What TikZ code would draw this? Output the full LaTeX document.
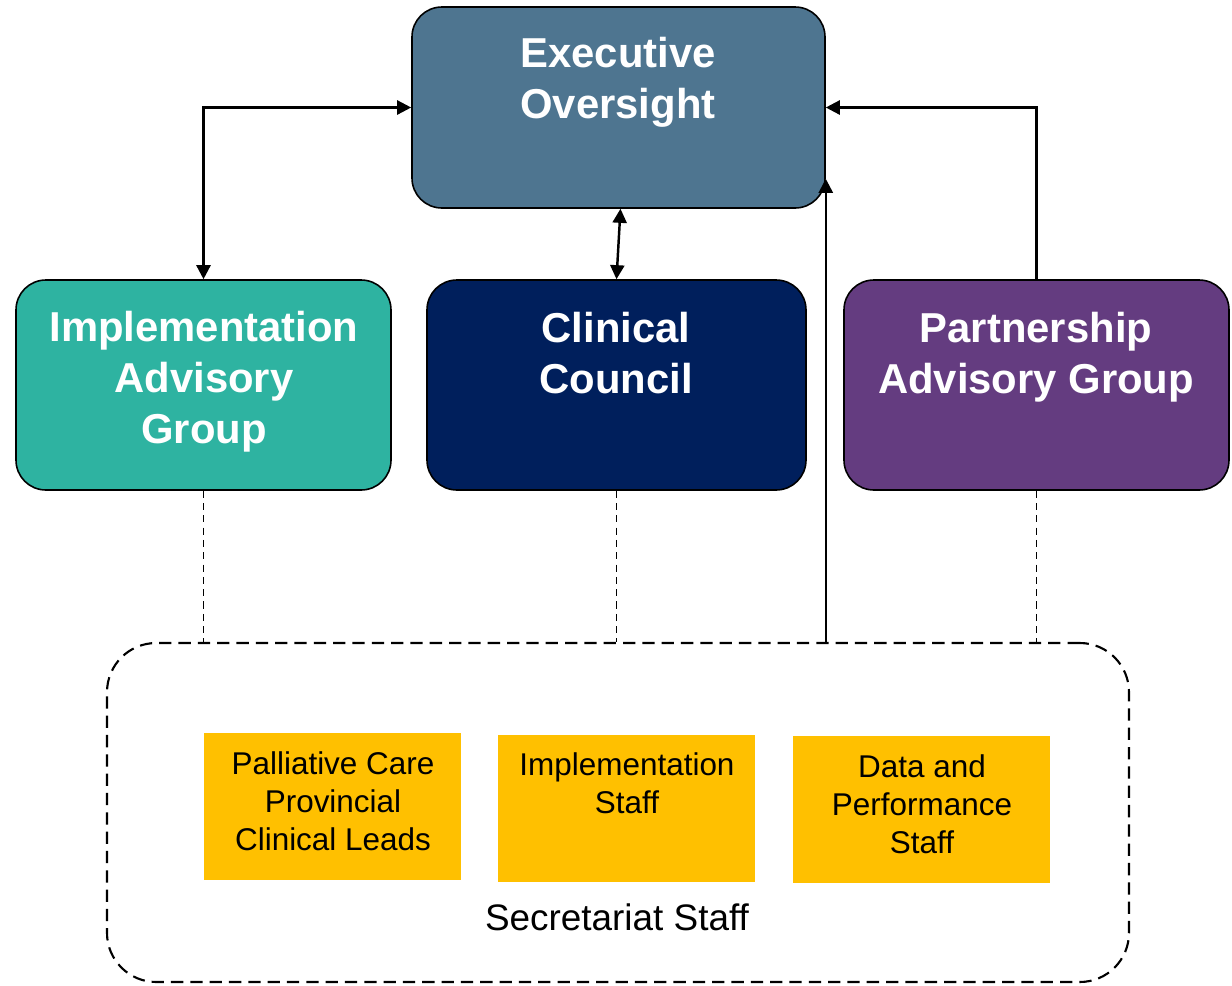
\documentclass[tikz,border=0pt]{standalone}
\usepackage{fontspec}
\setmainfont{Liberation Sans}
\usetikzlibrary{arrows.meta,calc}
\definecolor{execc}{HTML}{4E7590}
\definecolor{tealc}{HTML}{2EB3A1}
\definecolor{navyc}{HTML}{001F5C}
\definecolor{purpc}{HTML}{643C80}
\definecolor{yellc}{HTML}{FFC000}
\tikzset{mytip/.tip={Triangle[length=8pt,width=8pt]}}
\begin{document}
\begin{tikzpicture}[x=0.02cm,y=-0.02cm,
  bigbox/.style={draw=black,line width=0.9pt,rounded corners=17pt,inner sep=0pt},
  ybox/.style={fill=yellc,inner sep=0pt},
  title/.style={text=white,font=\fontsize{23.8}{29}\selectfont\bfseries,align=center,inner sep=0pt},
  ytext/.style={text=black,font=\fontsize{17.9}{21.5}\selectfont,align=center,inner sep=0pt},
  conn/.style={line width=1.4pt,draw=black},
  dconn/.style={line width=1pt,dash pattern=on 4pt off 3pt}]
\useasboundingbox (0,0) rectangle (1232,985);
% boxes
\node[bigbox,fill=execc,minimum width=413*0.02cm,minimum height=201*0.02cm] (exec) at (618.5,107.5) {};
\node[bigbox,fill=tealc,minimum width=375*0.02cm,minimum height=210*0.02cm] (iag) at (203.5,385) {};
\node[bigbox,fill=navyc,minimum width=379*0.02cm,minimum height=210*0.02cm] (cc) at (616.5,385) {};
\node[bigbox,fill=purpc,minimum width=385*0.02cm,minimum height=210*0.02cm] (pag) at (1036.5,385) {};
\node[draw=black,line width=1.2pt,dash pattern=on 7pt off 4pt,rounded corners=28pt,minimum width=1022*0.02cm,minimum height=339*0.02cm,inner sep=0pt] (sec) at (618,812.5) {};
\node[ybox,minimum width=257*0.02cm,minimum height=147*0.02cm] (y1) at (332.5,806.5) {};
\node[ybox,minimum width=257*0.02cm,minimum height=147*0.02cm] (y2) at (626.5,808.5) {};
\node[ybox,minimum width=257*0.02cm,minimum height=147*0.02cm] (y3) at (921.5,809.5) {};
% texts
\node[title] (texec) at (618,82) {Executive\\Oversight};
\node[title] (tiag) at (204,382) {Implementation\\Advisory\\Group};
\node[title] (tcc) at (616,353) {Clinical\\Council};
\node[title] (tpag) at (1036,357) {Partnership\\Advisory Group};
\node[ytext] (ty1) at (333,801) {Palliative Care\\Provincial\\Clinical Leads};
\node[ytext] (ty2) at (627,783) {Implementation\\Staff};
\node[ytext] (ty3) at (922,804) {Data and\\Performance\\Staff};
\node[text=black,font=\fontsize{21}{25}\selectfont,inner sep=0pt] (tsec) at (617,917) {Secretariat Staff};
% connectors
\draw[conn,{mytip}-{mytip}] (iag.north) |- (exec.west);
\draw[conn,{mytip}-{mytip}] (cc.north) -- ($(exec.south)+(2,0)$);
\draw[conn,-{mytip}] (pag.north) |- (exec.east);
\coordinate (up) at ($(exec.south east)+(0,-30)$);
\draw[conn,-{mytip}] (sec.north -| exec.east) -- (up);
\draw[dconn] (iag.south) -- (iag.south |- sec.north);
\draw[dconn] (cc.south) -- (cc.south |- sec.north);
\draw[dconn] (pag.south) -- (pag.south |- sec.north);
\end{tikzpicture}
\end{document}
